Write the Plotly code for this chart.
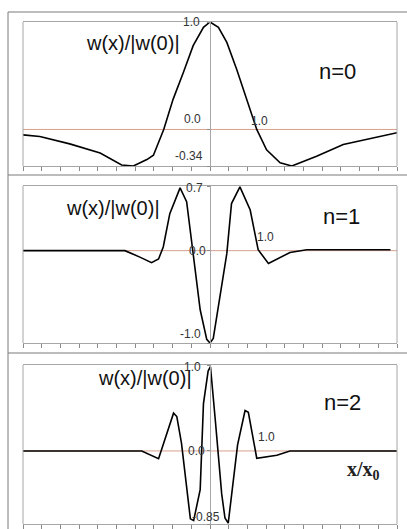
import plotly.graph_objects as go

# ---------------- data ----------------
x_n0 = [-4.0, -3.64, -3.0, -2.35, -1.89, -1.64, -1.35, -1.21, -0.99, -0.79, -0.57, -0.36, -0.14,
        0.0, 0.18, 0.36, 0.57, 0.79, 1.0, 1.21, 1.5, 1.75, 2.28, 2.85, 3.35, 4.0]
y_n0 = [-0.05, -0.066, -0.134, -0.22, -0.33, -0.34, -0.28, -0.24, 0.0, 0.28, 0.53, 0.78, 0.95,
        1.0, 0.95, 0.81, 0.56, 0.28, 0.0, -0.19, -0.31, -0.34, -0.25, -0.14, -0.09, -0.03]

x_n1 = [-4.0, -1.82, -1.5, -1.25, -1.1, -1.0, -0.86, -0.64, -0.5, -0.36, -0.21, -0.07, 0.0,
        0.07, 0.21, 0.36, 0.46, 0.64, 0.86, 1.03, 1.25, 1.5, 1.71, 2.07, 3.86]
y_n1 = [0.0, 0.0, -0.07, -0.13, -0.09, 0.04, 0.40, 0.68, 0.53, -0.03, -0.64, -0.96, -1.0,
        -0.95, -0.50, -0.03, 0.51, 0.69, 0.44, 0.01, -0.14, -0.07, -0.02, 0.01, 0.01]

x_n2 = [-4.0, -1.46, -1.1, -0.78, -0.71, -0.61, -0.42, -0.35, -0.21, -0.14, -0.04, 0.01, 0.11,
        0.25, 0.32, 0.39, 0.59, 0.75, 0.82, 1.0, 1.43, 1.71, 4.0]
y_n2 = [0.0, 0.0, -0.09, 0.44, 0.40, 0.09, -0.79, -0.81, -0.45, 0.55, 0.93, 0.98, 0.38,
        -0.50, -0.78, -0.84, 0.07, 0.47, 0.45, -0.085, -0.05, 0.0, 0.0]

panel_labels = ["n=0", "n=1", "n=2"]
y_ticks = [[1.0, 0.0, -0.34], [0.7, 0.0, -1.0], [1.0, 0.0, -0.85]]
y_tick_text = [["1.0", "0.0", "-0.34"], ["0.7", "0.0", "-1.0"], ["1.0", "0.0", "-0.85"]]
x_mark = 1.0
x_mark_text = "1.0"
y_ranges = [[-0.34, 1.0], [-1.0, 0.7], [-0.85, 1.0]]
x_range = [-4.0, 4.0]
x_dtick = 0.4

xs = [x_n0, x_n1, x_n2]
ys = [y_n0, y_n1, y_n2]

# ---------------- layout geometry (pixels) ----------------
W, H = 407, 529
def px(x):
    return x / W
def py(y):
    return 1 - y / H

plot_left, plot_right = 23, 397
panel_px = [(22, 166), (186, 343), (365, 524)]
ylabel_pos = [(133, 43), (113, 208), (145, 378)]
nlabel_pos = [(337, 72), (341, 216), (342, 402)]
ytick_shift = [[(-8, 0), (-7, 10), (-5, 10)],
               [(-5, -2), (-2, 0), (-7, 9)],
               [(-7, -2), (-3, 0), (12, 7)]]
xmark_shift = [(3, -1), (9, 5), (10, 5)]

fig = go.Figure()
frame_col = "#a6a6a6"
zero_col = "#d6a08e"
label_font = dict(family="Liberation Sans, Arial, sans-serif", size=12, color="#333333")

shapes = []
annotations = []
for i in range(3):
    n = "" if i == 0 else str(i + 1)
    top, bot = panel_px[i]
    # zero line
    shapes.append(dict(type="line", xref="x" + n + " domain", yref="y" + n,
                       x0=0, x1=1, y0=0, y1=0, layer="below",
                       line=dict(color=zero_col, width=1)))
    fig.add_trace(go.Scatter(x=xs[i], y=ys[i], mode="lines",
                             line=dict(color="black", width=1.6),
                             xaxis="x" + n, yaxis="y" + n, showlegend=False,
                             hoverinfo="skip"))
    fig.layout["xaxis" + n] = dict(
        domain=[px(plot_left), px(plot_right)], range=x_range, anchor="y" + n,
        showgrid=False, zeroline=False, showline=True, mirror=True,
        linecolor=frame_col, linewidth=1, ticks="outside", ticklen=4,
        tickcolor="#8a8a8a", dtick=x_dtick, tick0=x_range[0], showticklabels=False,
        fixedrange=True)
    fig.layout["yaxis" + n] = dict(
        domain=[py(bot), py(top)], range=y_ranges[i], anchor="free",
        position=px((plot_left + plot_right) / 2),
        showgrid=False, zeroline=False,
        showline=True, linecolor=frame_col, linewidth=1,
        ticks="outside", ticklen=3, tickcolor="#8a8a8a",
        tickvals=y_ticks[i], showticklabels=False, fixedrange=True)
    for xe in (plot_left, plot_right):
        shapes.append(dict(type="line", xref="paper", yref="paper",
                           x0=px(xe), x1=px(xe), y0=py(bot), y1=py(top),
                           line=dict(color=frame_col, width=1)))
    for v, t, (dx, dy) in zip(y_ticks[i], y_tick_text[i], ytick_shift[i]):
        annotations.append(dict(x=0, y=v, xref="x" + n, yref="y" + n, text=t,
                                showarrow=False, xanchor="right", yanchor="middle",
                                xshift=dx, yshift=dy, font=label_font))
    dx, dy = xmark_shift[i]
    annotations.append(dict(x=x_mark, y=0, xref="x" + n, yref="y" + n, text=x_mark_text,
                            showarrow=False, xanchor="center", yanchor="bottom",
                            xshift=dx, yshift=dy, font=label_font))
    annotations.append(dict(x=px(ylabel_pos[i][0]), y=py(ylabel_pos[i][1]), xref="paper",
                            yref="paper", text="w(x)/|w(0)|", showarrow=False,
                            xanchor="center", yanchor="middle",
                            font=dict(family="Liberation Sans, Arial, sans-serif",
                                      size=20, color="#111111")))
    annotations.append(dict(x=px(nlabel_pos[i][0]), y=py(nlabel_pos[i][1]), xref="paper",
                            yref="paper", text=panel_labels[i], showarrow=False,
                            xanchor="center", yanchor="middle",
                            font=dict(family="Liberation Sans, Arial, sans-serif",
                                      size=22, color="#111111")))

annotations.append(dict(x=px(363), y=py(470), xref="paper", yref="paper",
                        text="<b>x/x<sub>0</sub></b>", showarrow=False,
                        xanchor="center", yanchor="middle",
                        font=dict(family="Liberation Serif, Times New Roman, serif",
                                  size=20, color="#222222")))

border_col = "#7a7a7a"
shapes.append(dict(type="line", xref="paper", yref="paper", x0=px(8), x1=px(8),
                   y0=0, y1=py(12), line=dict(color=border_col, width=1)))
for yb in (12, 175, 353):
    shapes.append(dict(type="line", xref="paper", yref="paper", x0=px(8), x1=1,
                       y0=py(yb), y1=py(yb), line=dict(color=border_col, width=1)))

fig.update_layout(width=W, height=H, margin=dict(l=0, r=0, t=0, b=0),
                  paper_bgcolor="white", plot_bgcolor="white",
                  shapes=shapes, annotations=annotations, showlegend=False)

fig.write_html("out.html", config={"displayModeBar": False},
               post_script="document.body.style.margin='0';document.body.style.overflow='hidden';")
